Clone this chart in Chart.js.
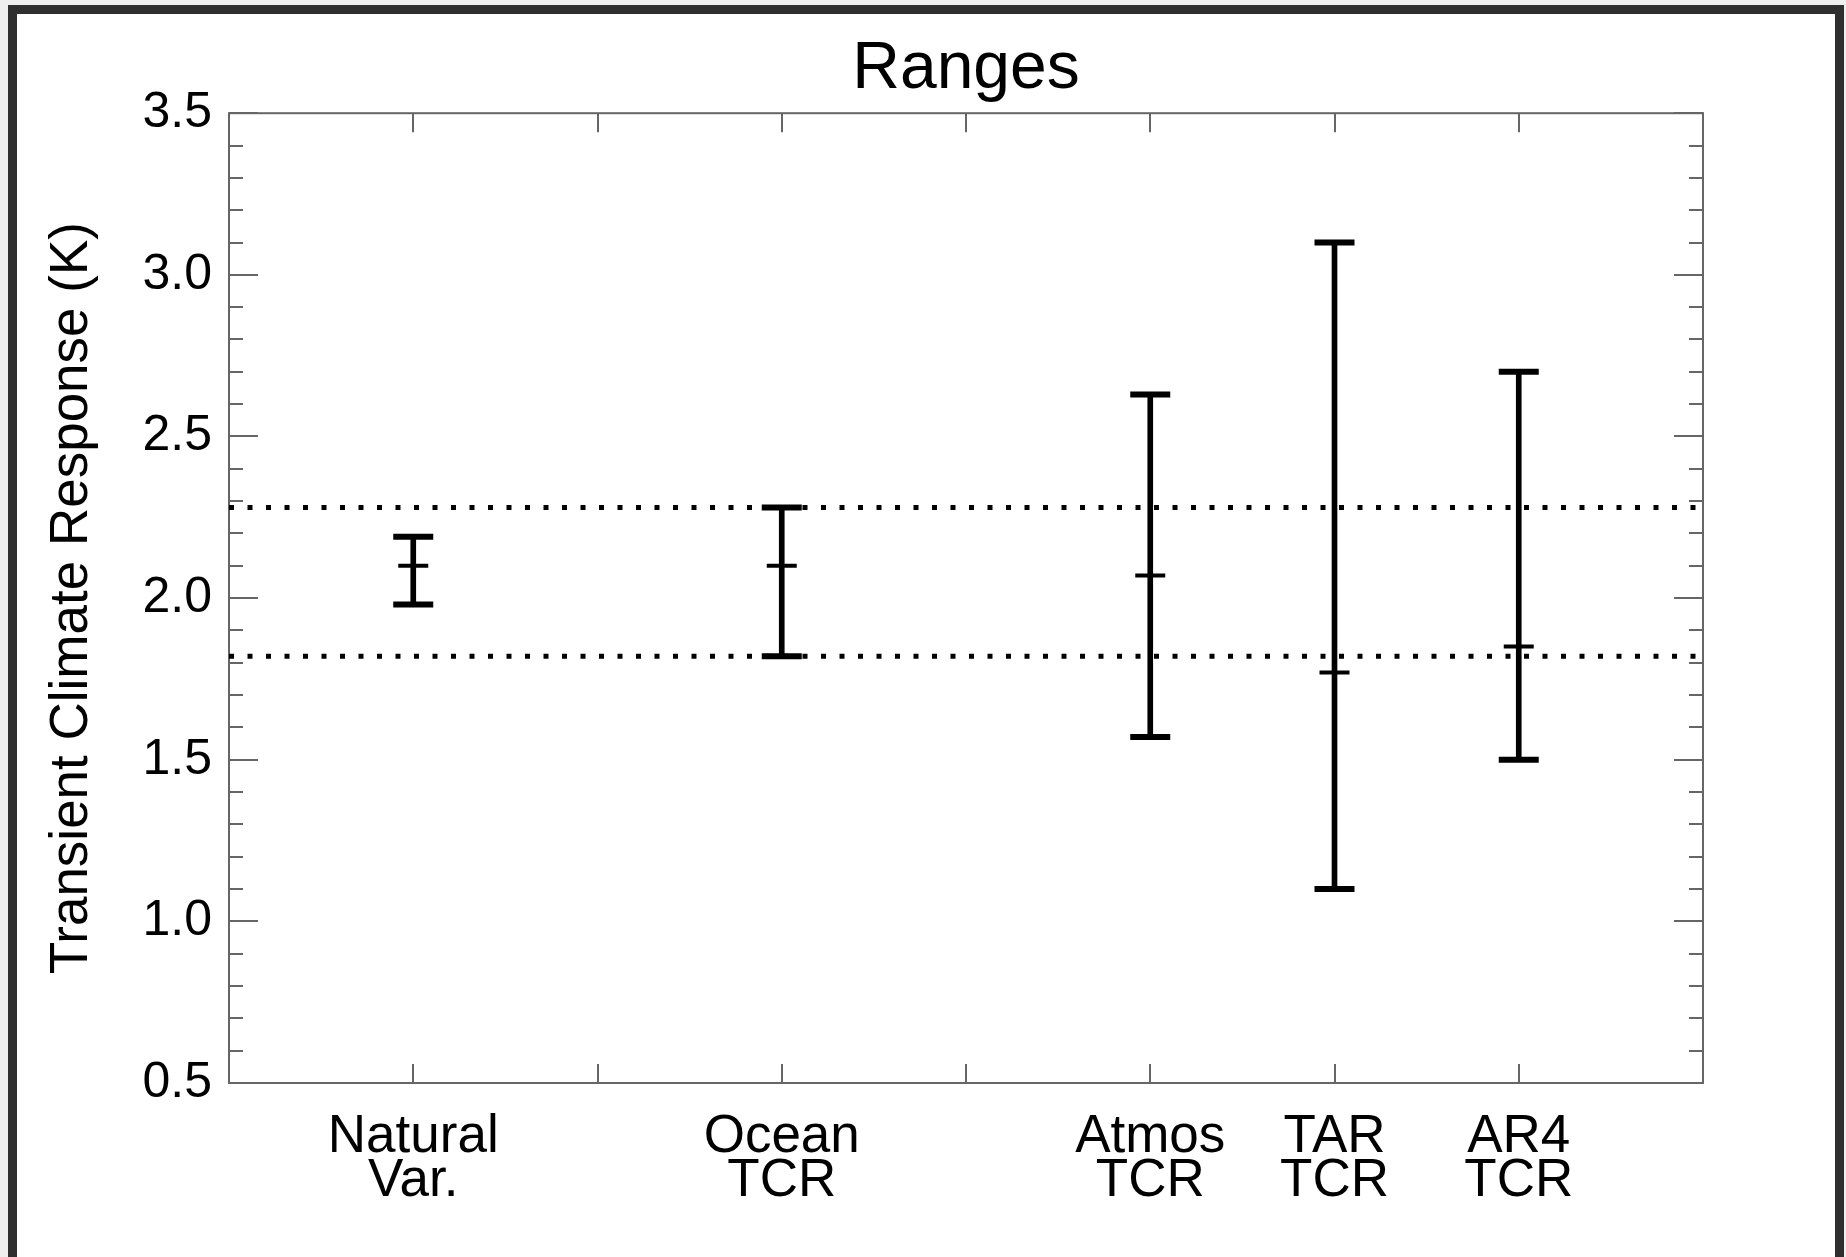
<!DOCTYPE html>
<html>
<head>
<meta charset="utf-8">
<title>Ranges</title>
<script src="https://cdn.jsdelivr.net/npm/chart.js@4.4.1/dist/chart.umd.min.js"></script>
<style>
  html, body { margin: 0; padding: 0; background: #efefef; overflow: hidden; }
  #frame { position: absolute; left: 8px; top: 5px; width: 1818px; height: 1260px; border: 9px solid #2f2f2f; background: #fff; }
  canvas { display: block; }
</style>
</head>
<body>
<div id="frame"><canvas id="rangeChart" width="1818" height="1243"></canvas></div>
<script>
// data
var categories = [["Natural", "Var."], ["Ocean", "TCR"], ["Atmos", "TCR"], ["TAR", "TCR"], ["AR4", "TCR"]];
var positions = [1, 3, 5, 6, 7];
var lows = [1.98, 1.82, 1.57, 1.10, 1.50];
var mids = [2.10, 2.10, 2.07, 1.77, 1.85];
var highs = [2.19, 2.28, 2.63, 3.10, 2.70];
var refLines = [1.82, 2.28];
var yTicks = [0.5, 1.0, 1.5, 2.0, 2.5, 3.0, 3.5];

Chart.defaults.font.family = '"Liberation Sans", Arial, Helvetica, sans-serif';
Chart.defaults.color = '#000';

// box around the plot with inward minor/major ticks (IDL style)
var frameTicks = {
    id: 'frameTicks',
    beforeDatasetsDraw: function (chart) {
        var ctx = chart.ctx, a = chart.chartArea;
        var xs = chart.scales.x, ys = chart.scales.y;
        ctx.save();
        ctx.strokeStyle = '#666';
        ctx.lineWidth = 2;
        ctx.strokeRect(a.left, a.top, a.right - a.left, a.bottom - a.top);
        ctx.beginPath();
        for (var i = 5; i <= 35; i++) {
            var py = Math.round(ys.getPixelForValue(i / 10));
            var len = (i % 5 === 0) ? 29 : 14;
            ctx.moveTo(a.left, py); ctx.lineTo(a.left + len, py);
            ctx.moveTo(a.right, py); ctx.lineTo(a.right - len, py);
        }
        for (var j = 1; j <= 7; j++) {
            var px = Math.round(xs.getPixelForValue(j));
            ctx.moveTo(px, a.bottom); ctx.lineTo(px, a.bottom - 19);
            ctx.moveTo(px, a.top); ctx.lineTo(px, a.top + 19);
        }
        ctx.stroke();
        ctx.restore();
    }
};

var datasets = [];
refLines.forEach(function (v) {
    datasets.push({
        type: 'line',
        data: [{x: 0, y: v}, {x: 8, y: v}],
        borderColor: '#000',
        borderWidth: 5,
        borderDash: [5, 13.5],
        pointRadius: 0,
        order: 5
    });
});
datasets.push({
    type: 'bar',
    data: positions.map(function (p, i) { return {x: p, y: [lows[i], highs[i]]}; }),
    backgroundColor: '#000',
    barThickness: 5,
    order: 2
});
datasets.push({
    type: 'line',
    showLine: false,
    data: positions.map(function (p, i) { return {x: p, y: lows[i]}; })
        .concat(positions.map(function (p, i) { return {x: p, y: highs[i]}; })),
    pointStyle: 'line',
    pointRadius: 20,
    borderColor: '#000',
    borderWidth: 6,
    order: 1
});
datasets.push({
    type: 'line',
    showLine: false,
    data: positions.map(function (p, i) { return {x: p, y: mids[i]}; }),
    pointStyle: 'line',
    pointRadius: 15,
    borderColor: '#000',
    borderWidth: 4,
    order: 0
});

var ctx = document.getElementById('rangeChart').getContext('2d');
var rangeChart = new Chart(ctx, {
    type: 'bar',
    data: { datasets: datasets },
    plugins: [frameTicks],
    options: {
        responsive: false,
        animation: false,
        devicePixelRatio: 1,
        layout: { padding: { left: 0, right: 132, top: 0, bottom: 0 } },
        plugins: {
            legend: { display: false },
            tooltip: { enabled: false },
            title: {
                display: true,
                text: 'Ranges',
                fullSize: false,
                color: '#000',
                font: { size: 66, weight: 'normal', lineHeight: 1.2 },
                padding: { top: 16, bottom: 4 }
            }
        },
        scales: {
            x: {
                type: 'linear',
                min: 0,
                max: 8,
                offset: false,
                grid: { display: false, drawTicks: false },
                border: { display: false },
                afterBuildTicks: function (s) {
                    s.ticks = positions.map(function (p) { return {value: p}; });
                },
                afterFit: function (s) { s.height = 174; },
                ticks: {
                    autoSkip: false,
                    maxRotation: 0,
                    padding: 32,
                    color: '#000',
                    font: { size: 53, lineHeight: 0.83 },
                    callback: function (v) {
                        var k = positions.indexOf(v);
                        return k < 0 ? '' : categories[k];
                    }
                }
            },
            y: {
                min: 0.5,
                max: 3.5,
                grid: { display: false, drawTicks: false },
                border: { display: false },
                afterBuildTicks: function (s) {
                    s.ticks = yTicks.map(function (v) { return {value: v}; });
                },
                afterFit: function (s) { s.width = 212; },
                ticks: {
                    padding: 17,
                    color: '#000',
                    font: { size: 50 },
                    callback: function (v) { return v.toFixed(1); }
                },
                title: {
                    display: true,
                    text: 'Transient Climate Response (K)',
                    color: '#000',
                    font: { size: 53, lineHeight: 1.2 },
                    padding: { top: 24, bottom: 0 }
                }
            }
        }
    }
});
</script>
</body>
</html>
